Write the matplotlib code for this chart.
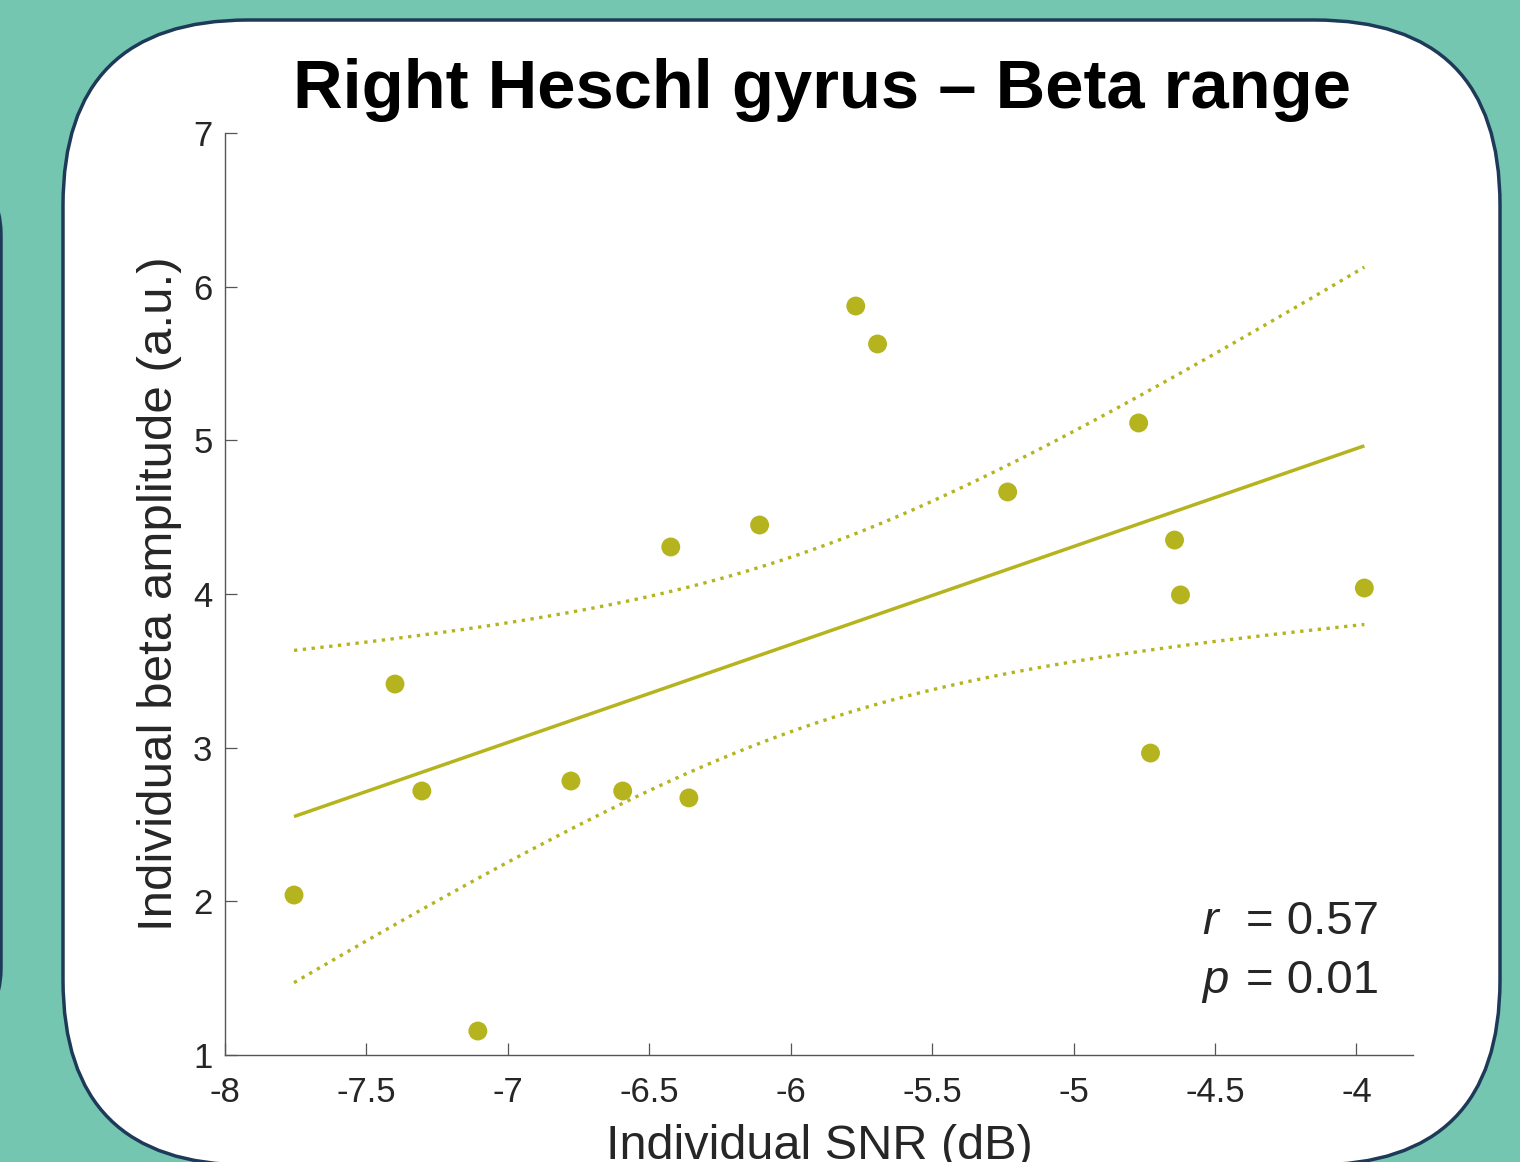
import numpy as np
import matplotlib
matplotlib.use("Agg")
import matplotlib.pyplot as plt
from matplotlib.patches import FancyBboxPatch

# Data
snr_db = [-7.756, -7.399, -7.304, -7.106, -6.777, -6.594, -6.424, -6.360, -6.110,
          -5.770, -5.693, -5.233, -4.770, -4.728, -4.643, -4.622, -3.972]
beta_amp = [2.041, 3.414, 2.718, 1.156, 2.783, 2.718, 4.306, 2.673, 4.449,
            5.874, 5.627, 4.664, 5.113, 2.965, 4.351, 3.994, 4.039]
x_ticks = [-8, -7.5, -7, -6.5, -6, -5.5, -5, -4.5, -4]
x_tick_labels = ["-8", "-7.5", "-7", "-6.5", "-6", "-5.5", "-5", "-4.5", "-4"]
y_ticks = [1, 2, 3, 4, 5, 6, 7]
r_text = "= 0.57"
p_text = "= 0.01"
t_crit = 2.131  # t(0.975, df=15)

teal = "#75c6b1"
navy = "#1e3a58"
olive = "#b5b41e"
grey_txt = "#262626"

plt.rcParams['font.family'] = ['Liberation Sans', 'DejaVu Sans']

W, H = 1520, 1162
fig = plt.figure(figsize=(W / 100, H / 100), dpi=100)
fig.patch.set_facecolor(teal)

# background panels in pixel units
bg = fig.add_axes([0, 0, 1, 1])
bg.set_xlim(0, W)
bg.set_ylim(0, H)
bg.axis("off")
bg.add_patch(FancyBboxPatch((-500, H - 1028), 501, 853,
                            boxstyle="round,pad=0,rounding_size=60",
                            fc=teal, ec=navy, lw=2.5))
bg.add_patch(FancyBboxPatch((63, H - 1165), 1437, 1145,
                            boxstyle="round,pad=0,rounding_size=185",
                            fc="white", ec=navy, lw=2.5))

# main scatter axes
ax = fig.add_axes([225 / W, 1 - 1055 / H, (1413 - 225) / W, (1055 - 133) / H])
ax.patch.set_alpha(0)

x = np.array(snr_db)
y = np.array(beta_amp)
slope, intercept = np.polyfit(x, y, 1)
n = len(x)
resid = y - (slope * x + intercept)
s = np.sqrt(np.sum(resid ** 2) / (n - 2))
xs = np.linspace(x.min(), x.max(), 200)
fit = slope * xs + intercept
half = t_crit * s * np.sqrt(1 / n + (xs - x.mean()) ** 2 / np.sum((x - x.mean()) ** 2))

ax.plot(xs, fit, color=olive, lw=2.5, solid_capstyle="butt")
ax.plot(xs, fit + half, color=olive, lw=2.4, ls=":")
ax.plot(xs, fit - half, color=olive, lw=2.4, ls=":")
ax.scatter(x, y, s=185, color=olive, edgecolors="none", zorder=3)

ax.set_xlim(-8, -3.8)
ax.set_ylim(1, 7)
ax.set_xticks(x_ticks)
ax.set_xticklabels(x_tick_labels)
ax.set_yticks(y_ticks)
for side in ["top", "right"]:
    ax.spines[side].set_visible(False)
for side in ["left", "bottom"]:
    ax.spines[side].set_color("#555555")
    ax.spines[side].set_linewidth(1.0)
ax.tick_params(axis="both", direction="in", length=8.5, width=0.9, color="#555555",
               labelsize=25, labelcolor=grey_txt)
ax.tick_params(axis="x", pad=15)
ax.tick_params(axis="y", pad=9)

ax.set_xlabel("Individual SNR (dB)", fontsize=35, color=grey_txt, labelpad=11)
ax.set_ylabel("Individual beta amplitude (a.u.)", fontsize=35.5, color=grey_txt, labelpad=8)

fig.text(822 / W, 1 - 90 / H, "Right Heschl gyrus \u2013 Beta range", fontsize=49.5,
         fontweight="bold", ha="center", va="center", color="black")

# statistics
fig.text(1202 / W, 1 - 934 / H, "r", fontsize=34, style="italic", color=grey_txt,
         ha="left", va="baseline")
fig.text(1246 / W, 1 - 934 / H, r_text, fontsize=34, color=grey_txt,
         ha="left", va="baseline")
fig.text(1202 / W, 1 - 993 / H, "p", fontsize=34, style="italic", color=grey_txt,
         ha="left", va="baseline")
fig.text(1246 / W, 1 - 993 / H, p_text, fontsize=34, color=grey_txt,
         ha="left", va="baseline")

fig.savefig("out.png", dpi=100, facecolor=teal)
